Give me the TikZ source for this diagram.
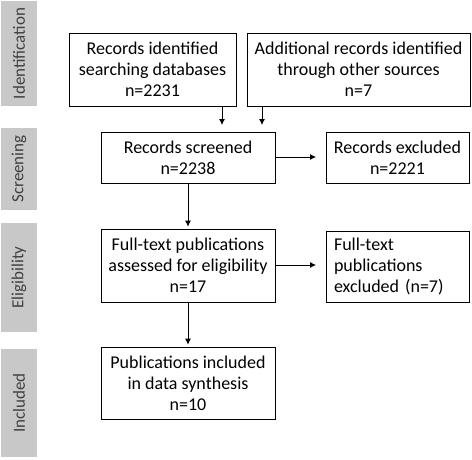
\documentclass[tikz,border=0pt]{standalone}
\usepackage{fontspec}
\setmainfont{Carlito}
\usetikzlibrary{arrows.meta,calc}
\definecolor{sidegray}{HTML}{C8C8C8}
\definecolor{sidetext}{HTML}{404040}
\tikzset{
  box/.style={draw=black, line width=0.8pt, align=center, inner sep=2pt,
    font=\fontsize{18}{21}\selectfont},
  side/.style={fill=sidegray, draw=none, rotate=90, inner sep=0pt,
    font=\fontsize{17}{20}\selectfont, text=sidetext},
  arr/.style={line width=0.8pt, -{Latex[length=6pt,width=6pt]}}
}
\begin{document}
\begin{tikzpicture}[x=1pt,y=-1pt]
\useasboundingbox (0,0) rectangle (472,459);
% side labels
\node[side, minimum width=105, minimum height=36] (s1) at (19,53.5) {Identification};
\node[side, minimum width=82, minimum height=36] (s2) at (19,169) {Screening};
\node[side, minimum width=109, minimum height=36] (s3) at (19,277.5) {Eligibility};
\node[side, minimum width=108, minimum height=36] (s4) at (19,403) {Included};
% boxes
\node[box, minimum width=167, minimum height=73] (A) at (152.5,69.5) {Records identified\\searching databases\\n=2231};
\node[box, minimum width=223, minimum height=73] (B) at (358.5,69.5) {Additional records identified\\through other sources\\n=7};
\node[box, minimum width=174, minimum height=51] (C) at (188,157.5) {Records screened\\n=2238};
\node[box, minimum width=143, minimum height=51] (D) at (397.5,157.5) {Records excluded\\n=2221};
\node[box, minimum width=174, minimum height=73] (E) at (188,265.5) {Full-text publications\\assessed for eligibility\\n=17};
\node[box, minimum width=143, minimum height=71, align=left, text width=127] (F) at (397.5,266.5) {Full-text\\publications\\excluded (n=7)};
\node[box, minimum width=174, minimum height=72] (G) at (188,383) {Publications included\\in data synthesis\\n=10};
% arrow ends
\coordinate (a1) at (222,125);
\coordinate (a2) at (262,125);
\coordinate (c1) at (316,157);
\coordinate (e1) at (316,265);
% connectors
\draw[arr] (A.south -| a1) -- (a1);
\draw[arr] (B.south -| a2) -- (a2);
\draw[arr] (C.east |- c1) -- (c1);
\draw[arr] (C.south) -- ($(E.north)+(0,-2)$);
\draw[arr] (E.east |- e1) -- (e1);
\draw[arr] (E.south) -- ($(G.north)+(0,-2)$);
\end{tikzpicture}
\end{document}
